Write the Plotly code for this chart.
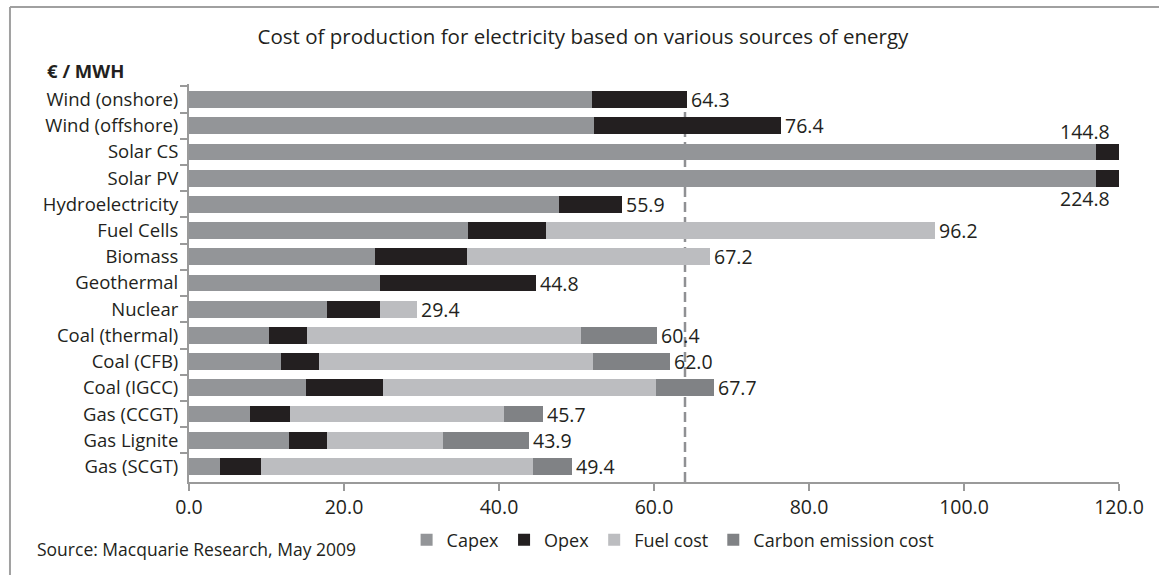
import plotly.graph_objects as go

# Cost components in EUR per MWh, listed top to bottom
sources = [
    "Wind (onshore)", "Wind (offshore)", "Solar CS", "Solar PV", "Hydroelectricity",
    "Fuel Cells", "Biomass", "Geothermal", "Nuclear", "Coal (thermal)",
    "Coal (CFB)", "Coal (IGCC)", "Gas (CCGT)", "Gas Lignite", "Gas (SCGT)",
]
capex = [52.0, 52.3, 117.0, 117.0, 47.7, 36.0, 24.0, 24.6, 17.8, 10.3, 11.9, 15.1, 7.9, 12.9, 4.0]
opex = [12.3, 24.1, 27.8, 107.8, 8.2, 10.1, 11.9, 20.2, 6.8, 4.9, 4.9, 9.9, 5.1, 4.9, 5.3]
fuel_cost = [0.0, 0.0, 0.0, 0.0, 0.0, 50.1, 31.3, 0.0, 4.8, 35.4, 35.3, 35.3, 27.6, 15.0, 35.1]
carbon_cost = [0.0, 0.0, 0.0, 0.0, 0.0, 0.0, 0.0, 0.0, 0.0, 9.8, 9.9, 7.4, 5.1, 11.1, 5.0]
x_ticks = [0, 20, 40, 60, 80, 100, 120]
reference_cost = 64.0

X_MAX = 120
TEXT = "#231f20"
FONT = "Open Sans"

series = [
    ("Capex", capex, "#939598"),
    ("Opex", opex, "#231f20"),
    ("Fuel cost", fuel_cost, "#bcbdc0"),
    ("Carbon emission cost", carbon_cost, "#808285"),
]

fig = go.Figure()
for name, vals, color in series:
    fig.add_trace(go.Bar(
        y=sources, x=vals, name=name, orientation="h",
        marker=dict(color=color, line=dict(width=0)),
        hoverinfo="x+y+name",
    ))

totals = [round(a + b + c + d, 1) for a, b, c, d in zip(capex, opex, fuel_cost, carbon_cost)]

annotations = []
for src, tot in zip(sources, totals):
    label = f"{tot:.1f}"
    if tot <= X_MAX:
        annotations.append(dict(x=tot, y=src, text=label, xanchor="left", yanchor="middle",
                                xshift=2, showarrow=False, font=dict(size=19.5, color=TEXT, family=FONT)))
    else:
        # bars running past the axis end are labelled at the edge, above/below the bar
        shift = 20 if src == "Solar CS" else -20
        annotations.append(dict(x=X_MAX, y=src, text=label, xanchor="right", yanchor="middle",
                                xshift=-7, yshift=shift, showarrow=False,
                                font=dict(size=19.5, color=TEXT, family=FONT)))

annotations.append(dict(xref="paper", yref="paper", x=-0.1548, y=1.035, text="<b>€ / MWH</b>",
                        xanchor="left", yanchor="middle", showarrow=False,
                        font=dict(size=18.5, color=TEXT, family=FONT)))
annotations.append(dict(xref="paper", yref="paper", x=-0.1656, y=-0.168,
                        text="Source: Macquarie Research, May 2009",
                        xanchor="left", yanchor="middle", showarrow=False,
                        font=dict(size=17.5, color=TEXT, family=FONT)))

shapes = [
    # reference cost level
    dict(type="line", xref="x", yref="paper", x0=reference_cost, x1=reference_cost,
         y0=0, y1=0.935, layer="below", line=dict(color="#8f9093", width=2.5, dash="10px,5px")),
    # outer frame edges
    dict(type="line", xref="paper", yref="paper", x0=-0.1925, x1=1.1, y0=1.1935, y1=1.1935,
         line=dict(color="#a0a0a0", width=2)),
    dict(type="line", xref="paper", yref="paper", x0=-0.1925, x1=-0.1925, y0=-0.3, y1=1.1935,
         line=dict(color="#a0a0a0", width=2)),
]

fig.update_layout(
    width=1159, height=575,
    margin=dict(l=189, r=40, t=84, b=93),
    paper_bgcolor="white", plot_bgcolor="white",
    barmode="stack", bargap=0.36,
    font=dict(family=FONT, color=TEXT, size=18),
    title=dict(text="Cost of production for electricity based on various sources of energy",
               x=0.503, xanchor="center", y=0.936, yanchor="middle",
               font=dict(size=20.5, color=TEXT, family=FONT)),
    xaxis=dict(range=[0, X_MAX], tickvals=x_ticks, tickformat=".1f",
               showgrid=False, zeroline=False, showline=True, linecolor="#9a9a9a", linewidth=2,
               ticks="outside", ticklen=7, tickwidth=2, tickcolor="#9a9a9a",
               tickfont=dict(size=19.5, color=TEXT, family=FONT)),
    yaxis=dict(categoryorder="array", categoryarray=sources, autorange="reversed",
               showgrid=False, showline=True, linecolor="#9a9a9a", linewidth=2,
               ticks="outside", tickson="boundaries", ticklen=7, tickwidth=2, tickcolor="#9a9a9a",
               tickfont=dict(size=18.5, color=TEXT, family=FONT), ticklabelstandoff=5),
    legend=dict(orientation="h", x=0.52, xanchor="center", y=-0.146, yanchor="middle",
                font=dict(size=18, color=TEXT, family=FONT), traceorder="normal",
                itemwidth=30, bgcolor="rgba(0,0,0,0)"),
    annotations=annotations,
    shapes=shapes,
)

fig.write_html("out.html")
